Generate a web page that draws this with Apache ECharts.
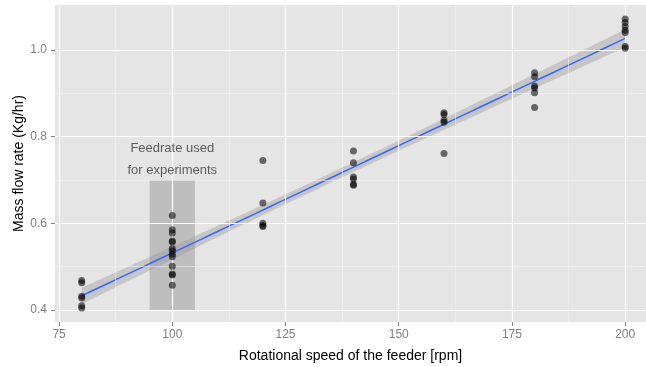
<!DOCTYPE html>
<html>
<head>
<meta charset="utf-8">
<script src="https://cdn.jsdelivr.net/npm/echarts@6/dist/echarts.min.js"></script>
<style>html,body{margin:0;padding:0;background:#fff}#c{width:646px;height:367px}</style>
</head>
<body>
<div id="c"></div>
<script>
// Observed speeds (rpm) and mass flow rates (Kg/hr)
const speeds80 = [0.468, 0.463, 0.432, 0.428, 0.410, 0.405];
const speeds100 = [0.618, 0.585, 0.578, 0.559, 0.557, 0.542, 0.537, 0.529, 0.523, 0.501, 0.483, 0.481, 0.457];
const speeds120 = [0.745, 0.647, 0.600, 0.595, 0.593];
const speeds140 = [0.767, 0.740, 0.707, 0.702, 0.690, 0.688];
const speeds160 = [0.855, 0.851, 0.838, 0.833, 0.761];
const speeds180 = [0.947, 0.938, 0.917, 0.912, 0.901, 0.867];
const speeds200 = [1.071, 1.063, 1.054, 1.045, 1.040, 1.008, 1.004];
const rpmLevels = [80, 100, 120, 140, 160, 180, 200];
const flowGroups = [speeds80, speeds100, speeds120, speeds140, speeds160, speeds180, speeds200];

const xTicks = [75, 100, 125, 150, 175, 200];
const xMinor = [87.5, 112.5, 137.5, 162.5, 187.5];
const yTicks = [0.4, 0.6, 0.8, 1.0];
const yMinor = [0.5, 0.7, 0.9];

const feedRect = { x0: 95, x1: 105, y0: 0.4, y1: 0.7 };
const annotation = { x: 100, y: 0.748, text: 'Feedrate used\nfor experiments' };

// scatter points
const points = [];
rpmLevels.forEach((x, i) => flowGroups[i].forEach(v => points.push([x, v])));

// linear regression + 95% confidence band
const n = points.length;
const xbar = points.reduce((s, p) => s + p[0], 0) / n;
const ybar = points.reduce((s, p) => s + p[1], 0) / n;
let sxx = 0, sxy = 0;
points.forEach(p => { sxx += (p[0] - xbar) ** 2; sxy += (p[0] - xbar) * (p[1] - ybar); });
const b = sxy / sxx, a = ybar - b * xbar;
let sse = 0;
points.forEach(p => { sse += (p[1] - a - b * p[0]) ** 2; });
const s = Math.sqrt(sse / (n - 2));
const tcrit = 2.0;
const fitX = [];
for (let x = 80; x <= 200.0001; x += 2) fitX.push(x);
const fitLine = fitX.map(x => [x, a + b * x]);
const band = fitX.map(x => {
  const se = s * Math.sqrt(1 / n + (x - xbar) ** 2 / sxx);
  return [x, a + b * x - tcrit * se, a + b * x + tcrit * se];
});

const FONT = '"Liberation Sans", Arial, Helvetica, sans-serif';
const chart = echarts.init(document.getElementById('c'), null, { renderer: 'canvas' });

const gridLines = (vals, key) => vals.map(v => ({ [key]: v }));
const minorStyle = { color: '#F2F2F2', width: 0.6, type: 'solid' };
const majorStyle = { color: '#FFFFFF', width: 1.2, type: 'solid' };

chart.setOption({
  animation: false,
  backgroundColor: '#ffffff',
  grid: { left: 55, right: 0, top: 5, bottom: 45, show: true, backgroundColor: '#E5E5E5', borderWidth: 0,
    outerBoundsMode: 'none', containLabel: false },
  xAxis: {
    type: 'value', min: 74.1, max: 204.6,
    splitLine: { show: false },
    axisLine: { show: false },
    axisTick: { show: true, length: 4, lineStyle: { color: '#7f7f7f', width: 1 }, customValues: xTicks },
    axisLabel: { color: '#7f7f7f', fontSize: 12, fontFamily: FONT, margin: 7, customValues: xTicks,
      formatter: v => String(v) },
    name: 'Rotational speed of the feeder [rpm]', nameLocation: 'middle', nameGap: 27,
    nameMoveOverlap: false,
    nameTextStyle: { color: '#000', fontSize: 14, fontFamily: FONT }
  },
  yAxis: {
    type: 'value', min: 0.3725, max: 1.1035,
    splitLine: { show: false },
    axisLine: { show: false },
    axisTick: { show: true, length: 4, lineStyle: { color: '#7f7f7f', width: 1 }, customValues: yTicks },
    axisLabel: { color: '#7f7f7f', fontSize: 12, fontFamily: FONT, margin: 8, customValues: yTicks,
      formatter: v => v.toFixed(1) },
    name: 'Mass flow rate (Kg/hr)', nameLocation: 'middle', nameGap: 29, nameRotate: 90,
    nameMoveOverlap: false,
    nameTextStyle: { color: '#000', fontSize: 14, fontFamily: FONT }
  },
  series: [
    {
      type: 'line', data: [], z: 1, silent: true,
      markLine: {
        silent: true, symbol: 'none', label: { show: false }, animation: false,
        data: [
          ...gridLines(xMinor, 'xAxis').map(d => ({ ...d, lineStyle: minorStyle })),
          ...gridLines(yMinor, 'yAxis').map(d => ({ ...d, lineStyle: minorStyle })),
          ...gridLines(xTicks, 'xAxis').map(d => ({ ...d, lineStyle: majorStyle })),
          ...gridLines(yTicks, 'yAxis').map(d => ({ ...d, lineStyle: majorStyle }))
        ]
      }
    },
    {
      type: 'custom', z: 2, silent: true,
      data: [[feedRect.x0, feedRect.y0, feedRect.x1, feedRect.y1]],
      renderItem: (params, api) => {
        const p0 = api.coord([api.value(0), api.value(1)]);
        const p1 = api.coord([api.value(2), api.value(3)]);
        return { type: 'rect', shape: { x: p0[0], y: p1[1], width: p1[0] - p0[0], height: p0[1] - p1[1] },
          style: { fill: 'rgba(0,0,0,0.17)' } };
      }
    },
    {
      type: 'custom', z: 3, silent: true,
      data: band,
      renderItem: (params, api) => {
        if (params.dataIndex !== 0) return null;
        const pts = [];
        band.forEach(d => pts.push(api.coord([d[0], d[2]])));
        for (let i = band.length - 1; i >= 0; i--) pts.push(api.coord([band[i][0], band[i][1]]));
        return { type: 'polygon', shape: { points: pts }, style: { fill: 'rgba(153,153,153,0.4)' } };
      }
    },
    {
      type: 'line', z: 4, data: fitLine, showSymbol: false, smooth: false, silent: true,
      lineStyle: { color: '#3366FF', width: 1.5 }
    },
    {
      type: 'scatter', z: 5, data: points, symbolSize: 7, silent: true,
      itemStyle: { color: 'rgba(0,0,0,0.7)' }
    },
    {
      type: 'scatter', z: 6, data: [[annotation.x, annotation.y]], symbolSize: 0, silent: true,
      label: { show: true, position: 'inside', formatter: annotation.text, color: '#3a3a3a',
        fontSize: 13, lineHeight: 22, fontFamily: FONT, align: 'center', verticalAlign: 'middle' }
    }
  ]
});
</script>
</body>
</html>
